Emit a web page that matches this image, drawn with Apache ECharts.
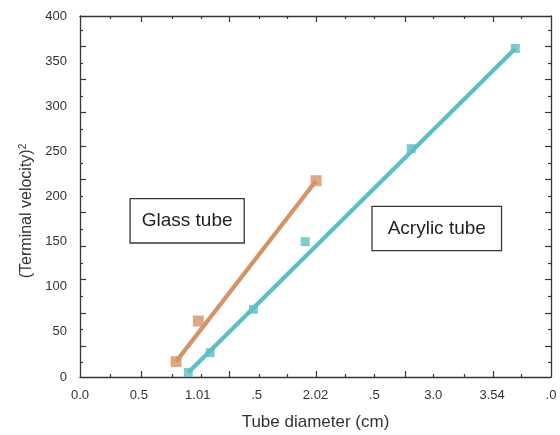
<!DOCTYPE html>
<html>
<head>
<meta charset="utf-8">
<script src="https://cdn.jsdelivr.net/npm/echarts@6/dist/echarts.min.js"></script>
<style>
  html, body { margin: 0; padding: 0; background: #ffffff; }
  #chart { width: 560px; height: 435px; }
</style>
</head>
<body>
<div id="chart"></div>
<script>
// Measured points: tube diameter (cm) vs squared terminal velocity
const glassDiameter = [0.816, 1.005, 2.005];
const glassVelocitySq = [17, 62, 217.5];
const acrylicDiameter = [0.92, 1.105, 1.473, 1.912, 2.813, 3.697];
const acrylicVelocitySq = [5, 27, 75, 150, 253, 364];

// Straight-line fits (end points)
const glassFitX = [0.816, 2.005];
const glassFitY = [17, 217.5];
const acrylicFitX = [0.92, 3.697];
const acrylicFitY = [5, 364];

// Axis labels
const xLabelValues = [0, 0.5, 1, 1.5, 2, 2.5, 3, 3.5, 4];
const xTickLabels = ['0.0', '0.5', '1.01', '.5', '2.02', '.5', '3.0', '3.54', '.0'];
const yLabelValues = [0, 50, 100, 150, 200, 250, 300, 350, 400];
const yTickLabels = ['0', '50', '100', '150', '200', '250', '300', '350', '400'];

// Tick marks on the frame
const xMajorTicks = [0.52, 1.27, 2.01, 2.76, 3.51];
const xMinorTicks = [0.26, 0.78, 1.03, 1.52, 1.76, 2.25, 2.50, 3.00, 3.26, 3.75];
const yMajorTicks = [34, 71, 108, 145, 182, 219, 256, 293, 330, 367];
const yMinorTicks = [16, 53, 89, 126, 164, 200, 237, 274, 311, 348, 384];

// Series captions, in data coordinates
const glassCaption = { text: 'Glass tube', at: [0.91, 173] };
const acrylicCaption = { text: 'Acrylic tube', at: [3.03, 164.5] };

const pairs = (xs, ys) => xs.map((x, i) => [x, ys[i]]);

const FONT = '"Liberation Sans", Arial, Helvetica, sans-serif';
const INK = '#333333';
const FRAME = '#3a3434';
const GLASS = '#D39468';
const ACRYLIC = '#5BBFC4';

function frameAxis(kind, position, ticks, tickLen, showLine, extra) {
  return Object.assign({
    type: 'value',
    position: position,
    min: 0,
    max: kind === 'x' ? 4 : 400,
    axisLine: { show: showLine, onZero: false, lineStyle: { color: FRAME, width: 1.3 } },
    axisTick: { show: true, inside: true, length: tickLen, customValues: ticks,
                lineStyle: { color: FRAME, width: 1.2 } },
    axisLabel: { show: false },
    splitLine: { show: false }
  }, extra || {});
}

const captionLabel = (pad) => ({
  show: true,
  position: 'inside',
  fontFamily: FONT,
  fontSize: 19,
  color: '#231f20',
  backgroundColor: '#ffffff',
  borderColor: '#3a3434',
  borderWidth: 1.3,
  lineHeight: 21,
  padding: pad
});

const chart = echarts.init(document.getElementById('chart'), null, { renderer: 'canvas' });

chart.setOption({
  animation: false,
  backgroundColor: '#ffffff',
  textStyle: { fontFamily: FONT },
  grid: { left: 80, right: 9, top: 16, bottom: 58, containLabel: false, outerBoundsMode: 'none' },
  xAxis: [
    frameAxis('x', 'bottom', xMajorTicks, 6, true, {
      interval: 0.5,
      name: 'Tube diameter (cm)',
      nameLocation: 'middle',
      nameGap: 37,
      nameTextStyle: { fontFamily: FONT, fontSize: 17, color: INK },
      axisLabel: {
        show: true, margin: 12, fontFamily: FONT, fontSize: 13, color: INK,
        customValues: xLabelValues,
        formatter: (v) => xTickLabels[Math.round(v / 0.5)]
      }
    }),
    frameAxis('x', 'bottom', xMinorTicks, 3, false),
    frameAxis('x', 'top', xMajorTicks, 6, true),
    frameAxis('x', 'top', xMinorTicks, 3, false)
  ],
  yAxis: [
    frameAxis('y', 'left', yMajorTicks, 6, true, {
      interval: 50,
      name: '(Terminal velocity){sup|2}',
      nameLocation: 'middle',
      nameGap: 39,
      nameTextStyle: {
        fontFamily: FONT, fontSize: 16, color: INK,
        padding: [0, 29, 0, 0],
        rich: { sup: { fontFamily: FONT, fontSize: 10, color: INK, verticalAlign: 'top' } }
      },
      axisLabel: {
        show: true, margin: 13, fontFamily: FONT, fontSize: 13, color: INK,
        customValues: yLabelValues,
        formatter: (v) => yTickLabels[Math.round(v / 50)]
      }
    }),
    frameAxis('y', 'left', yMinorTicks, 3, false),
    frameAxis('y', 'right', yMajorTicks, 6, true),
    frameAxis('y', 'right', yMinorTicks, 3, false)
  ],
  series: [
    {
      name: 'Glass fit', type: 'line', xAxisIndex: 0, yAxisIndex: 0,
      data: pairs(glassFitX, glassFitY),
      showSymbol: false, symbol: 'none',
      lineStyle: { color: GLASS, width: 4.2 },
      z: 2,
      markPoint: {
        symbol: 'rect', symbolSize: 1, itemStyle: { color: 'rgba(0,0,0,0)' },
        label: captionLabel([11, 11]),
        data: [{ coord: glassCaption.at, value: glassCaption.text,
                 label: { formatter: glassCaption.text } }]
      }
    },
    {
      name: 'Acrylic fit', type: 'line', xAxisIndex: 0, yAxisIndex: 0,
      data: pairs(acrylicFitX, acrylicFitY),
      showSymbol: false, symbol: 'none',
      lineStyle: { color: ACRYLIC, width: 4.2 },
      z: 2,
      markPoint: {
        symbol: 'rect', symbolSize: 1, itemStyle: { color: 'rgba(0,0,0,0)' },
        label: captionLabel([11, 15]),
        data: [{ coord: acrylicCaption.at, value: acrylicCaption.text,
                 label: { formatter: acrylicCaption.text } }]
      }
    },
    {
      name: 'Glass tube', type: 'scatter', xAxisIndex: 0, yAxisIndex: 0,
      data: pairs(glassDiameter, glassVelocitySq),
      symbol: 'rect', symbolSize: 11,
      itemStyle: { color: GLASS },
      z: 3
    },
    {
      name: 'Acrylic tube', type: 'scatter', xAxisIndex: 0, yAxisIndex: 0,
      data: pairs(acrylicDiameter, acrylicVelocitySq),
      symbol: 'rect', symbolSize: 9,
      itemStyle: { color: ACRYLIC },
      z: 3
    }
  ]
});
</script>
</body>
</html>
